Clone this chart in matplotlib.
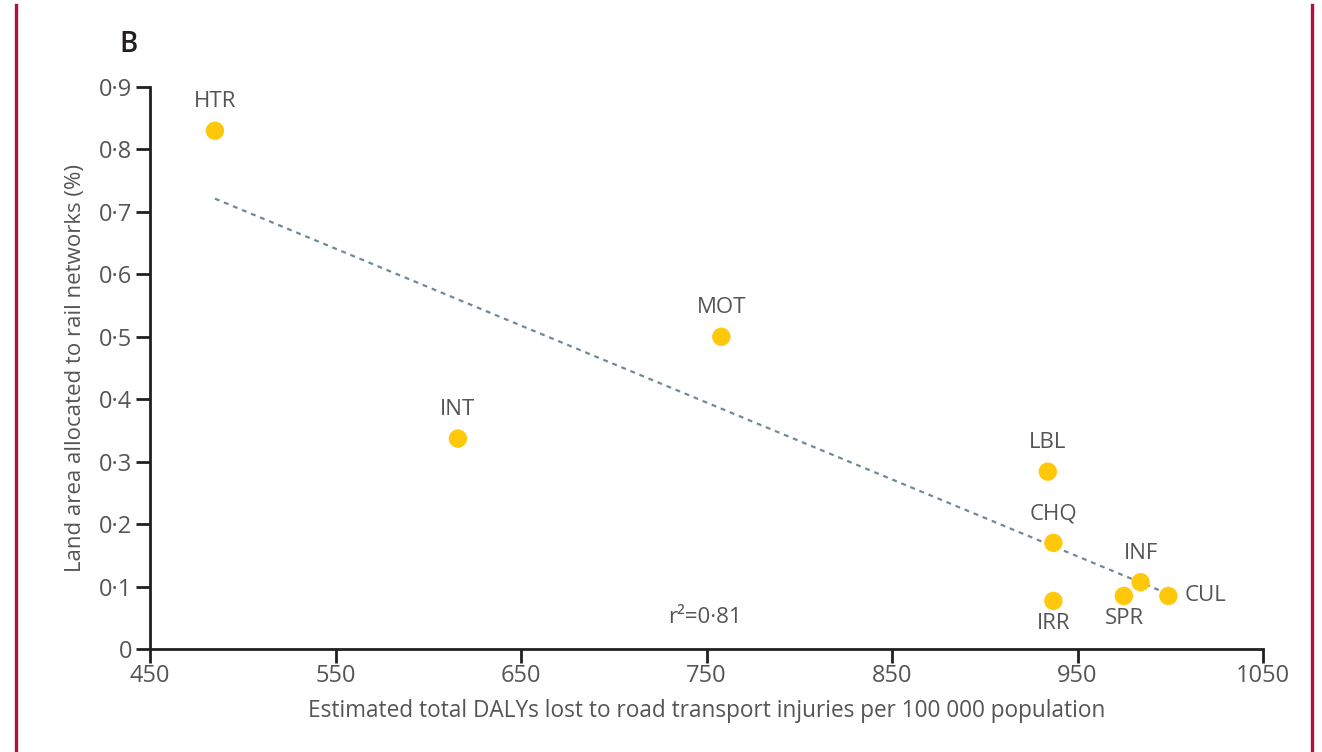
import numpy as np
import matplotlib
matplotlib.use("Agg")
import matplotlib.pyplot as plt
from matplotlib.lines import Line2D
from matplotlib.ticker import FuncFormatter

# ---- data ----
codes = ["HTR", "MOT", "INT", "LBL", "CHQ", "IRR", "INF", "SPR", "CUL"]
dalys = [485, 758, 616, 934, 937, 937, 984, 975, 999]
rail_pct = [0.83, 0.50, 0.337, 0.284, 0.170, 0.077, 0.107, 0.085, 0.085]
label_pos = ["above", "above", "above", "above", "above", "below", "above", "below", "right"]
x_ticks = [450, 550, 650, 750, 850, 950, 1050]
y_ticks = [0, 0.1, 0.2, 0.3, 0.4, 0.5, 0.6, 0.7, 0.8, 0.9]
r2_text = "0·81"

plt.rcParams['font.family'] = ['Open Sans', 'DejaVu Sans']
grey = "#555555"

fig = plt.figure(figsize=(13.22, 7.52), dpi=100)
ax = fig.add_axes([150/1322, 1-649/752, (1263-150)/1322, (649-87)/752])

ax.set_xlim(450, 1050)
ax.set_ylim(0, 0.9)

# regression line
x = np.array(dalys, float); y = np.array(rail_pct, float)
m, b = np.polyfit(x, y, 1)
xx = np.array([x.min(), x.max()])
ax.plot(xx, m*xx + b, linestyle=(0, (2.2, 2.2)), color="#6f8a96", lw=1.6, zorder=2)

ax.scatter(x, y, s=175, color="#ffc80a", edgecolors="none", zorder=3)

fs_lab = 16
for c, xi, yi, pos in zip(codes, dalys, rail_pct, label_pos):
    if pos == "above":
        ax.annotate(c, (xi, yi), xytext=(0, 21), textcoords="offset points",
                    ha="center", va="center", fontsize=fs_lab, color=grey)
    elif pos == "below":
        ax.annotate(c, (xi, yi), xytext=(0, -16), textcoords="offset points",
                    ha="center", va="center", fontsize=fs_lab, color=grey)
    else:
        ax.annotate(c, (xi, yi), xytext=(12, 0), textcoords="offset points",
                    ha="left", va="center", fontsize=fs_lab, color=grey)

ax.text(749, 0.051, "r²=" + r2_text, ha="center", va="center", fontsize=16, color=grey)

for s in ["top", "right"]:
    ax.spines[s].set_visible(False)
for s in ["left", "bottom"]:
    ax.spines[s].set_linewidth(2.0)
    ax.spines[s].set_color("#231f20")

ax.set_xticks(x_ticks)
ax.set_yticks(y_ticks)
ax.yaxis.set_major_formatter(FuncFormatter(lambda v, p: "0" if v == 0 else f"{v:.1f}".replace(".", "·")))
ax.tick_params(axis="both", direction="out", length=10, width=2.0, color="#231f20",
               labelsize=17, labelcolor=grey)
ax.tick_params(axis="x", pad=1)
ax.tick_params(axis="y", pad=3)

ax.set_xlabel("Estimated total DALYs lost to road transport injuries per 100 000 population",
              fontsize=16.3, color=grey, labelpad=8)
ax.set_ylabel("Land area allocated to rail networks (%)", fontsize=16, color=grey, labelpad=9)

fig.text(128/1322, 1-45/752, "B", fontsize=20, fontweight="semibold", color="#231f20",
         ha="center", va="center")

red = "#b5103a"
fig.add_artist(Line2D([16/1322, 16/1322], [0, 1-5/752], color=red, lw=2.4, transform=fig.transFigure))
fig.add_artist(Line2D([1312/1322, 1312/1322], [0, 1-5/752], color=red, lw=2.4, transform=fig.transFigure))

fig.savefig("out.png", dpi=100)
